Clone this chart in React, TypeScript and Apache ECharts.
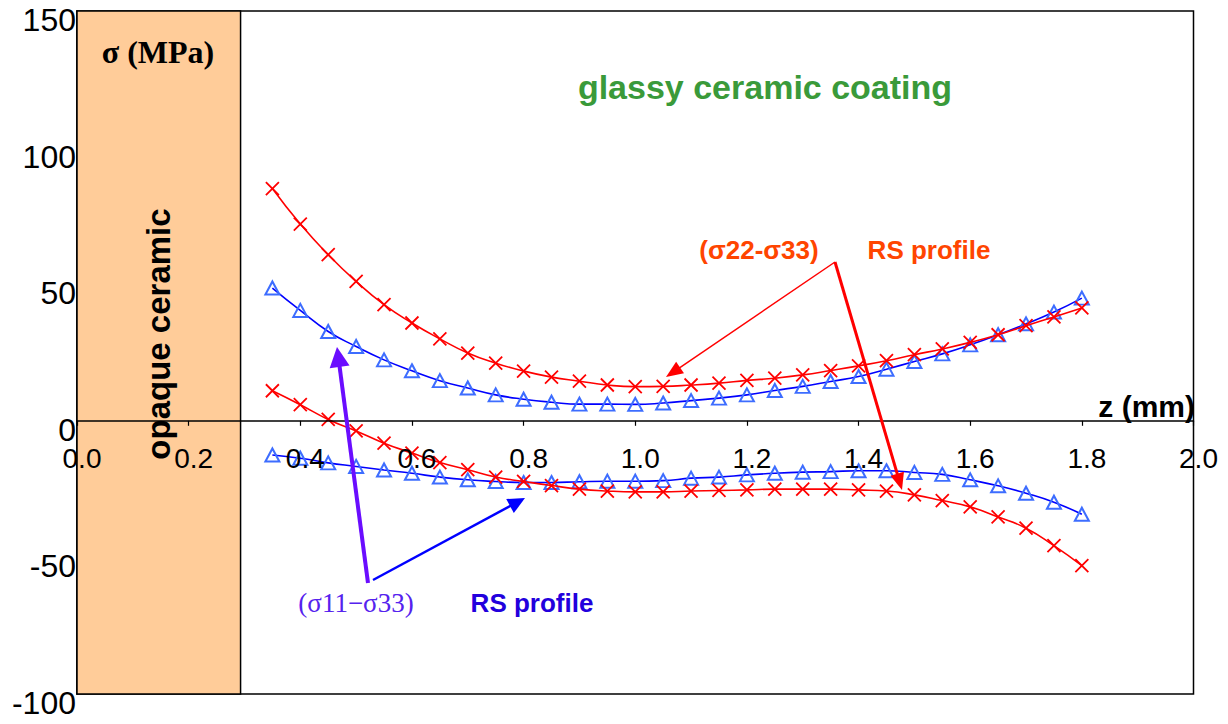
import React, { useEffect, useRef } from "react";
import * as echarts from "echarts";

// depth positions (mm)
const zPositions = [
  0.35, 0.4, 0.45, 0.5, 0.55, 0.6, 0.65, 0.7, 0.75, 0.8,
  0.85, 0.9, 0.95, 1.0, 1.05, 1.1, 1.15, 1.2, 1.25, 1.3,
  1.35, 1.4, 1.45, 1.5, 1.55, 1.6, 1.65, 1.7, 1.75, 1.8,
];

// (σ22-σ33) RS profile, upper and lower curves (MPa)
const s22Upper = [
  85.0, 72.0, 60.8, 51.0, 42.5, 35.8, 30.0, 24.8, 21.1, 18.2,
  16.0, 14.5, 13.1, 12.5, 12.6, 13.1, 13.8, 14.8, 15.6, 16.8,
  18.4, 20.1, 22.0, 24.2, 26.3, 28.7, 31.5, 34.8, 38.0, 41.3,
];
const s22Lower = [
  11.0, 5.9, 0.5, -3.7, -8.2, -11.8, -15.3, -17.9, -20.6, -22.2,
  -23.7, -25.0, -25.7, -26.0, -26.0, -25.7, -25.5, -25.3, -25.0, -25.0,
  -25.0, -25.3, -25.7, -27.1, -29.2, -31.5, -35.2, -39.3, -45.7, -53.0,
];

// (σ11-σ33) RS profile, upper and lower curves (MPa)
const s11Upper = [
  48.6, 40.4, 32.7, 27.2, 22.3, 18.3, 14.7, 12.0, 9.5, 7.9,
  6.8, 6.1, 6.1, 6.0, 6.5, 7.4, 8.3, 9.5, 11.1, 12.6,
  14.4, 16.2, 18.9, 21.7, 24.5, 27.8, 31.5, 35.5, 39.8, 44.9,
];
const s11Lower = [
  -12.5, -13.7, -15.4, -16.7, -18.0, -19.2, -20.6, -21.6, -22.2, -22.6,
  -22.6, -22.3, -22.1, -22.1, -21.9, -21.0, -20.6, -19.8, -19.2, -18.8,
  -18.6, -18.3, -18.3, -18.9, -19.6, -21.6, -23.8, -26.5, -29.8, -34.2,
];

// opaque ceramic layer extent (mm)
const opaqueStart = 0;
const opaqueEnd = 0.293;

const xMin = 0;
const xMax = 2;
const xStep = 0.2;
const yMin = -100;
const yMax = 150;
const yStep = 50;

const SANS = "'Liberation Sans', Arial, sans-serif";
const SERIF = "'Liberation Serif', 'Times New Roman', serif";

const GRID_TOP = 11;
const GRID_BOTTOM = 30;
const CHART_H = 724;

function arrow(
  x1: number, y1: number, x2: number, y2: number,
  color: string, width: number, headLen: number, headHalf: number
) {
  const dx = x2 - x1;
  const dy = y2 - y1;
  const L = Math.hypot(dx, dy);
  const ux = dx / L;
  const uy = dy / L;
  const bx = x2 - ux * headLen;
  const by = y2 - uy * headLen;
  const px = -uy;
  const py = ux;
  return [
    {
      type: "line",
      z: 100,
      shape: { x1, y1, x2: bx + ux * 2, y2: by + uy * 2 },
      style: { stroke: color, lineWidth: width },
    },
    {
      type: "polygon",
      z: 100,
      shape: {
        points: [
          [x2, y2],
          [bx + px * headHalf, by + py * headHalf],
          [bx - px * headHalf, by - py * headHalf],
        ],
      },
      style: { fill: color },
    },
  ];
}

function txt(
  text: string, x: number, y: number, font: string, fill: string,
  align = "center", vAlign = "middle", rotation = 0
) {
  return {
    type: "text",
    z: 100,
    x,
    y,
    rotation,
    style: {
      text,
      font,
      fill,
      align,
      verticalAlign: vAlign,
      textAlign: align,
      textVerticalAlign: vAlign,
    },
  };
}

const toPairs = (ys: number[]) => zPositions.map((z, i) => [z, ys[i]]);

const crossSymbol = "path://M0,0L10,10M10,0L0,10";

function redSeries(ys: number[], withArea = false) {
  const s: any = {
    type: "line",
    data: toPairs(ys),
    smooth: true,
    symbol: crossSymbol,
    symbolSize: 13,
    lineStyle: { color: "#FF0000", width: 1.6 },
    itemStyle: { color: "#FF0000", borderColor: "#FF0000", borderWidth: 1.8 },
    z: 4,
  };
  if (withArea) {
    s.markArea = {
      silent: true,
      itemStyle: { color: "#FFCC99", borderColor: "#000", borderWidth: 1.5 },
      label: { show: false },
      data: [[{ xAxis: opaqueStart, yAxis: yMin }, { xAxis: opaqueEnd, yAxis: yMax }]],
    };
  }
  return s;
}

function blueSeries(ys: number[]) {
  return {
    type: "line",
    data: toPairs(ys),
    smooth: true,
    symbol: "triangle",
    symbolSize: [14, 13],
    lineStyle: { color: "#0000FF", width: 1.6 },
    itemStyle: { color: "rgba(255,255,255,0)", borderColor: "#3D6DFF", borderWidth: 2 },
    z: 3,
  };
}

export default function App() {
  const ref = useRef<HTMLDivElement>(null);

  useEffect(() => {
    if (!ref.current) return;
    const chart = echarts.init(ref.current, null, { renderer: "svg" });
    const plotH = CHART_H - GRID_TOP - GRID_BOTTOM;
    const zeroFromBottom = (0 - yMin) / (yMax - yMin) * plotH;
    const option: any = {
      animation: false,
      backgroundColor: "#ffffff",
      grid: {
        left: 77,
        top: GRID_TOP,
        right: 34.5,
        bottom: GRID_BOTTOM,
        show: true,
        borderColor: "#000",
        borderWidth: 1.5,
        backgroundColor: "transparent",
        containLabel: false,
        outerBoundsMode: "none",
      },
      xAxis: {
        type: "value",
        min: xMin,
        max: xMax,
        interval: xStep,
        position: "bottom",
        offset: -zeroFromBottom,
        z: 6,
        axisLine: { onZero: false, lineStyle: { color: "#000", width: 1.5 } },
        axisTick: { show: true, length: 5, lineStyle: { color: "#000", width: 1.2 } },
        splitLine: { show: false },
        axisLabel: {
          fontSize: 28,
          fontFamily: SANS,
          color: "#000",
          margin: 24,
          padding: [0, 0, 0, 10],
          showMinLabel: true,
          showMaxLabel: true,
          hideOverlap: false,
          formatter: (v: number) => v.toFixed(1),
        },
      },
      yAxis: {
        type: "value",
        min: yMin,
        max: yMax,
        interval: yStep,
        axisLine: { show: true, onZero: false, lineStyle: { color: "#000", width: 1.5 } },
        axisTick: { show: false },
        splitLine: { show: false },
        axisLabel: {
          fontSize: 32,
          fontFamily: SANS,
          color: "#000",
          margin: 1,
          verticalAlign: "top",
          lineHeight: 18,
          showMinLabel: true,
          showMaxLabel: true,
          hideOverlap: false,
        },
      },
      series: [
        redSeries(s22Upper, true),
        blueSeries(s11Upper),
        redSeries(s22Lower),
        blueSeries(s11Lower),
      ],
      graphic: [
        txt("σ (MPa)", 158, 52, `bold 32px ${SERIF}`, "#000"),
        txt("opaque ceramic", 158, 334, `bold 33px ${SANS}`, "#000", "center", "middle", Math.PI / 2),
        txt("glassy ceramic coating", 765, 87, `bold 34px ${SANS}`, "#3A9A3A"),
        txt("(σ22-σ33)", 759, 250, `bold 26px ${SANS}`, "#FF4500"),
        txt("RS profile", 929, 250, `bold 26px ${SANS}`, "#FF4500"),
        txt("(σ11−σ33)", 356, 603, `27px ${SERIF}`, "#5522EE"),
        txt("RS profile", 532, 603, `bold 26px ${SANS}`, "#2200DD"),
        txt("z (mm)", 1195, 421, `bold 30px ${SANS}`, "#000", "right", "bottom"),
        ...arrow(835, 262, 666, 377, "#FF0000", 1.5, 17, 7),
        ...arrow(835, 262, 902, 490, "#FF0000", 3, 17, 7),
        ...arrow(368, 583, 337, 347, "#6A0DFF", 4, 20, 10),
        ...arrow(373, 580, 525, 498, "#0000FF", 2.5, 17, 8),
      ],
    };
    chart.setOption(option);
    return () => chart.dispose();
  }, []);

  return (
    <div
      ref={ref}
      style={{ position: "absolute", left: 0, top: 0, width: 1228, height: 724, background: "#fff" }}
    />
  );
}
